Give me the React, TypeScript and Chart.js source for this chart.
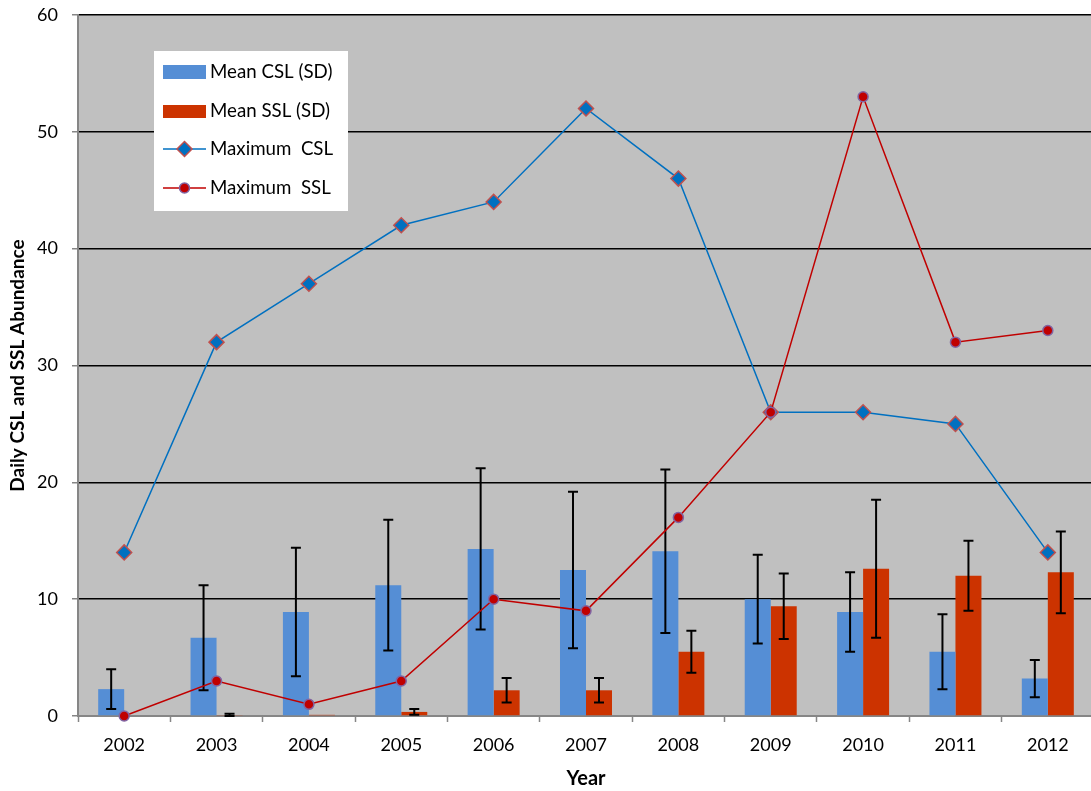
import React, { useEffect, useRef } from 'react';
import { Chart, registerables } from 'chart.js';

Chart.register(...registerables);

const years = ['2002', '2003', '2004', '2005', '2006', '2007', '2008', '2009', '2010', '2011', '2012'];
const meanCSL = [2.3, 6.7, 8.9, 11.2, 14.3, 12.5, 14.1, 10.0, 8.9, 5.5, 3.2];
const sdCSL = [1.7, 4.5, 5.5, 5.6, 6.9, 6.7, 7.0, 3.8, 3.4, 3.2, 1.6];
const meanSSL = [0, 0.05, 0.1, 0.35, 2.2, 2.2, 5.5, 9.4, 12.6, 12.0, 12.3];
const sdSSL = [0, 0.15, 0, 0.25, 1.05, 1.05, 1.8, 2.8, 5.9, 3.0, 3.5];
const maxCSL = [14, 32, 37, 42, 44, 52, 46, 26, 26, 25, 14];
const maxSSL = [0, 3, 1, 3, 10, 9, 17, 26, 53, 32, 33];

const labelMeanCSL = 'Mean CSL (SD)';
const labelMeanSSL = 'Mean SSL (SD)';
const labelMaxCSL = 'Maximum  CSL';
const labelMaxSSL = 'Maximum  SSL';

const FONT = 'Lato, "Open Sans", sans-serif';
const BLUE_BAR = '#558ED5';
const RED_BAR = '#CC3300';
const LINE_BLUE = '#0070C0';
const LINE_RED = '#C00000';
const DIAMOND_BORDER = '#C0504D';
const CIRCLE_BORDER = '#8064A2';
const AXIS_GRAY = '#868686';

const errorSets: Record<number, number[]> = { 0: sdCSL, 1: sdSSL };

export default function App() {
  const ref = useRef<HTMLCanvasElement>(null);

  useEffect(() => {
    document.body.style.margin = '0';
    const canvas = ref.current!;

    const bgPlugin = {
      id: 'plotBg',
      beforeDraw(chart: any) {
        const { ctx, chartArea } = chart;
        ctx.save();
        ctx.fillStyle = '#C0C0C0';
        ctx.fillRect(chartArea.left, chartArea.top, chartArea.right - chartArea.left, chartArea.bottom - chartArea.top);
        ctx.restore();
      },
    };

    const errPlugin = {
      id: 'errBars',
      afterDatasetDraw(chart: any, args: any) {
        const sd = errorSets[args.index];
        if (!sd) return;
        const ds = chart.data.datasets[args.index];
        const y = chart.scales.y;
        const ctx = chart.ctx;
        ctx.save();
        ctx.strokeStyle = '#000';
        ctx.lineWidth = 2;
        args.meta.data.forEach((el: any, i: number) => {
          const s = sd[i];
          if (!s) return;
          const m = ds.data[i] as number;
          const yt = y.getPixelForValue(m + s);
          const yb = y.getPixelForValue(Math.max(0, m - s));
          const x = el.x;
          ctx.beginPath();
          ctx.moveTo(x, yt);
          ctx.lineTo(x, yb);
          ctx.moveTo(x - 5, yt);
          ctx.lineTo(x + 5, yt);
          ctx.moveTo(x - 5, yb);
          ctx.lineTo(x + 5, yb);
          ctx.stroke();
        });
        ctx.restore();
      },
    };

    const legendPlugin = {
      id: 'insideLegend',
      afterDraw(chart: any) {
        const ctx = chart.ctx;
        ctx.save();
        ctx.fillStyle = '#FFFFFF';
        ctx.fillRect(154, 51, 194, 160);
        const ds = chart.data.datasets;
        const textX = 210;
        const x0 = 163;
        const x1 = 206;
        const cx = (x0 + x1) / 2;
        ctx.font = `18.7px ${FONT}`;
        ctx.textBaseline = 'middle';
        ctx.textAlign = 'left';
        ctx.fillStyle = BLUE_BAR;
        ctx.fillRect(x0, 65, x1 - x0, 14);
        ctx.fillStyle = RED_BAR;
        ctx.fillRect(x0, 105, x1 - x0, 13);
        ctx.strokeStyle = LINE_BLUE;
        ctx.lineWidth = 1.5;
        ctx.beginPath();
        ctx.moveTo(x0, 149);
        ctx.lineTo(x1, 149);
        ctx.stroke();
        ctx.beginPath();
        ctx.moveTo(cx, 149 - 7.5);
        ctx.lineTo(cx + 7.5, 149);
        ctx.lineTo(cx, 149 + 7.5);
        ctx.lineTo(cx - 7.5, 149);
        ctx.closePath();
        ctx.fillStyle = LINE_BLUE;
        ctx.fill();
        ctx.strokeStyle = DIAMOND_BORDER;
        ctx.stroke();
        ctx.strokeStyle = LINE_RED;
        ctx.beginPath();
        ctx.moveTo(x0, 188);
        ctx.lineTo(x1, 188);
        ctx.stroke();
        ctx.beginPath();
        ctx.arc(cx, 188, 5, 0, Math.PI * 2);
        ctx.fillStyle = LINE_RED;
        ctx.fill();
        ctx.strokeStyle = CIRCLE_BORDER;
        ctx.stroke();
        ctx.fillStyle = '#000';
        ctx.fillText(ds[0].label, textX, 72);
        ctx.fillText(ds[1].label, textX, 111);
        ctx.fillText(ds[2].label, textX, 149);
        ctx.fillText(ds[3].label, textX, 188);
        ctx.restore();
      },
    };

    const chart = new Chart(canvas, {
      type: 'bar',
      data: {
        labels: years,
        datasets: [
          {
            type: 'bar',
            label: labelMeanCSL,
            data: meanCSL,
            backgroundColor: BLUE_BAR,
            borderWidth: 0,
            barPercentage: 1,
            categoryPercentage: 0.563,
            order: 2,
          },
          {
            type: 'bar',
            label: labelMeanSSL,
            data: meanSSL,
            backgroundColor: RED_BAR,
            borderWidth: 0,
            barPercentage: 1,
            categoryPercentage: 0.563,
            order: 3,
          },
          {
            type: 'line',
            label: labelMaxCSL,
            data: maxCSL,
            borderColor: LINE_BLUE,
            borderWidth: 1.5,
            backgroundColor: LINE_BLUE,
            pointStyle: 'rectRot',
            pointRadius: 7.5,
            pointBackgroundColor: LINE_BLUE,
            pointBorderColor: DIAMOND_BORDER,
            pointBorderWidth: 1.5,
            tension: 0,
            clip: false as any,
            order: 1,
          },
          {
            type: 'line',
            label: labelMaxSSL,
            data: maxSSL,
            borderColor: LINE_RED,
            borderWidth: 1.5,
            backgroundColor: LINE_RED,
            pointStyle: 'circle',
            pointRadius: 5,
            pointBackgroundColor: LINE_RED,
            pointBorderColor: CIRCLE_BORDER,
            pointBorderWidth: 1.5,
            tension: 0,
            clip: false as any,
            order: 0,
          },
        ] as any,
      },
      options: {
        responsive: false,
        animation: false,
        layout: { padding: { left: 0, top: 15, right: 2, bottom: 0 } },
        plugins: {
          legend: { display: false },
          tooltip: { enabled: false },
        },
        scales: {
          x: {
            type: 'category',
            offset: true,
            grid: {
              offset: true,
              drawOnChartArea: false,
              drawTicks: true,
              tickLength: 6,
              tickColor: AXIS_GRAY,
              tickWidth: 1.5,
            },
            border: { display: true, color: AXIS_GRAY, width: 2 },
            ticks: {
              color: '#000',
              font: { family: FONT, size: 18 },
              padding: 12,
              maxRotation: 0,
              autoSkip: false,
            },
            title: {
              display: true,
              text: 'Year',
              color: '#000',
              font: { family: FONT, size: 20, weight: 'bold' },
              padding: { top: 0, bottom: 0 },
            },
            afterFit(scale: any) {
              scale.height = 75;
            },
          } as any,
          y: {
            min: 0,
            max: 60,
            ticks: {
              stepSize: 10,
              color: '#000',
              font: { family: FONT, size: 18 },
              padding: 14,
            },
            grid: {
              color: (c: any) => (c.tick && c.tick.value === 0 ? 'rgba(0,0,0,0)' : '#000'),
              lineWidth: 1.5,
              drawTicks: true,
              tickLength: 6,
              tickColor: AXIS_GRAY,
              tickWidth: 1.5,
            },
            border: { display: true, color: AXIS_GRAY, width: 2 },
            title: {
              display: true,
              text: 'Daily CSL and SSL Abundance',
              color: '#000',
              font: { family: FONT, size: 19, weight: 'bold' },
              padding: { top: 6, bottom: 0 },
            },
            afterFit(scale: any) {
              scale.width = 78;
              scale.paddingTop = 0;
              scale.paddingBottom = 0;
            },
          } as any,
        },
      },
      plugins: [bgPlugin, errPlugin, legendPlugin],
    });

    return () => chart.destroy();
  }, []);

  return (
    <div style={{ position: 'absolute', left: 0, top: 0, width: 1091, height: 791, overflow: 'hidden', background: '#fff' }}>
      <canvas ref={ref} width={1103} height={791} style={{ display: 'block' }} />
    </div>
  );
}
